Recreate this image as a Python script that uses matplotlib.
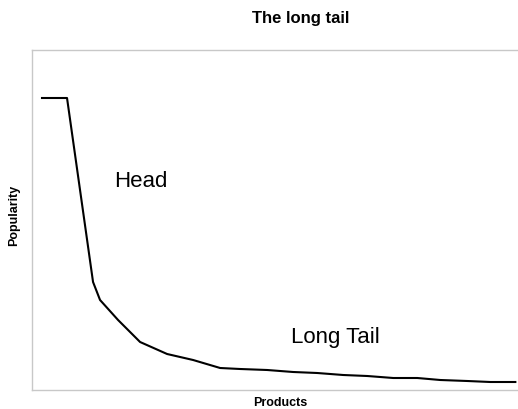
import matplotlib.pyplot as plt

# Long-tail curve: product rank vs. popularity
products = [10, 35, 61, 68, 86, 108, 135, 161, 188, 208, 235, 261, 285, 311, 335, 361, 385, 408, 435, 458, 483]
popularity = [292, 292, 108, 90, 70, 48, 36, 30, 22, 21, 20, 18, 17, 15, 14, 12, 12, 10, 9, 8, 8]

W, H = 518, 409
fig = plt.figure(figsize=(W / 100, H / 100), dpi=100)
ax = fig.add_axes([32 / W, (H - 390) / H, 1.0 - 32 / W + 0.02, (390 - 50) / H])

ax.plot(products, popularity, color='black', lw=1.5)
ax.set_xlim(0, 496)
ax.set_ylim(0, 340)
ax.set_xticks([])
ax.set_yticks([])
for side in ['left', 'top', 'bottom', 'right']:
    ax.spines[side].set_color('#c8c8c8')
    ax.spines[side].set_linewidth(1.0)

ax.text(109, 208, 'Head', fontsize=16, family='Liberation Sans', va='center', ha='center')
ax.text(303, 53, 'Long Tail', fontsize=16, family='Liberation Sans', va='center', ha='center')

fig.text(301 / W, 1 - 18 / H, 'The long tail', fontsize=12, fontweight='bold',
         family='Liberation Sans', ha='center', va='center')
fig.text(280 / W, 1 - 403 / H, 'Products', fontsize=9, fontweight='bold',
         family='Liberation Sans', ha='center', va='center')
fig.text(14 / W, 1 - 215 / H, 'Popularity', fontsize=9, fontweight='bold',
         family='Liberation Sans', ha='center', va='center', rotation=90)

fig.savefig('out.png', dpi=100)
